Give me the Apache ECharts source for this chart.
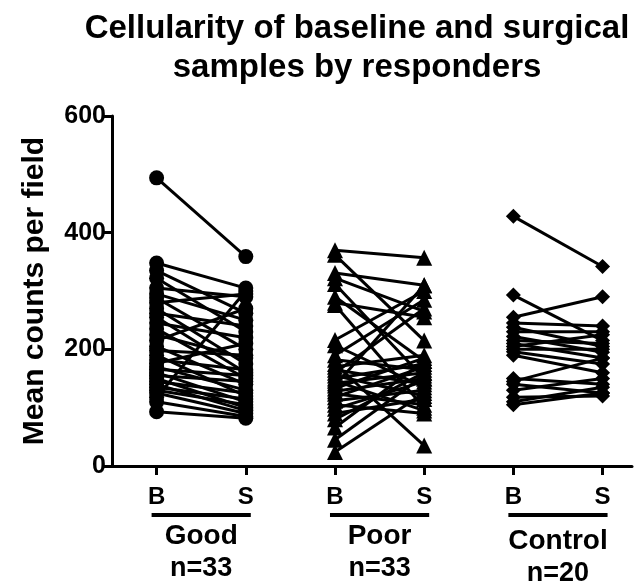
<!DOCTYPE html>
<html>
<head>
<meta charset="utf-8">
<script src="https://cdn.jsdelivr.net/npm/echarts@6/dist/echarts.min.js"></script>
<style>
  html, body { margin: 0; padding: 0; background: #fff; }
  #chart { width: 644px; height: 588px; }
</style>
</head>
<body>
<div id="chart"></div>
<script>
// Paired baseline (B) and surgical (S) cellularity per subject
const groups = ['Good', 'Poor', 'Control'];
const groupCounts = ['n=33', 'n=33', 'n=20'];
const tickLabels = ['B', 'S', 'B', 'S', 'B', 'S'];
const tickPositions = [1, 2, 3, 4, 5, 6];

const goodBaseline = [494, 348, 335, 322, 305, 295, 288, 280, 270, 262, 255, 245, 235, 225, 215, 205, 198, 190, 182, 176, 170, 166, 160, 155, 150, 145, 140, 135, 130, 125, 118, 110, 93];
const goodSurgical = [359, 305, 262, 230, 290, 250, 200, 295, 175, 240, 160, 220, 150, 185, 270, 140, 190, 120, 165, 210, 130, 155, 110, 145, 100, 125, 95, 115, 105, 90, 300, 85, 82];

const poorBaseline = [370, 362, 331, 322, 312, 290, 280, 276, 216, 207, 190, 182, 175, 170, 165, 160, 155, 150, 146, 142, 138, 133, 128, 124, 118, 112, 105, 98, 90, 80, 66, 45, 24];
const poorSurgical = [357, 215, 310, 265, 150, 180, 255, 100, 300, 135, 285, 165, 35, 190, 140, 270, 120, 175, 95, 160, 310, 185, 150, 105, 170, 130, 90, 145, 115, 160, 180, 155, 125];

const controlBaseline = [428, 293, 255, 245, 238, 230, 222, 215, 210, 205, 200, 196, 190, 150, 145, 140, 130, 118, 110, 105];
const controlSurgical = [342, 215, 290, 240, 205, 230, 195, 210, 185, 225, 200, 175, 160, 140, 185, 125, 150, 120, 135, 125];

const FONT = 'Liberation Sans, Arial, Helvetica, sans-serif';
const INK = '#000';

function pairSeries(baseline, surgical, xB, xS, symbol, size) {
  return baseline.map((b, i) => ({
    type: 'line',
    data: [[xB, b], [xS, surgical[i]]],
    symbol: symbol,
    symbolSize: size,
    showSymbol: true,
    lineStyle: { color: INK, width: 3 },
    itemStyle: { color: INK },
    silent: true,
    z: 3
  }));
}

const series = [].concat(
  pairSeries(goodBaseline, goodSurgical, 1, 2, 'circle', 15),
  pairSeries(poorBaseline, poorSurgical, 3, 4, 'triangle', 16),
  pairSeries(controlBaseline, controlSurgical, 5, 6, 'diamond', 15)
);

const chart = echarts.init(document.getElementById('chart'), null, { renderer: 'canvas' });

chart.setOption({
  animation: false,
  backgroundColor: '#fff',
  title: {
    text: 'Cellularity of baseline and surgical\nsamples by responders',
    left: 352,
    top: 4,
    textAlign: 'center',
    textStyle: {
      fontFamily: FONT,
      fontWeight: 'bold',
      fontSize: 33,
      lineHeight: 39,
      color: INK
    }
  },
  grid: { left: 112, right: 12, top: 116, bottom: 122, containLabel: false },
  xAxis: {
    type: 'value',
    min: 0.5,
    max: 6.33,
    axisLine: { show: true, lineStyle: { color: INK, width: 3 } },
    axisTick: { show: true, customValues: tickPositions, length: 9, lineStyle: { color: INK, width: 3 } },
    axisLabel: {
      customValues: tickPositions,
      formatter: v => tickLabels[Math.round(v) - 1] || '',
      margin: 19,
      fontFamily: FONT,
      fontWeight: 'bold',
      fontSize: 24,
      color: INK
    },
    splitLine: { show: false }
  },
  yAxis: {
    type: 'value',
    min: 0,
    max: 600,
    interval: 200,
    name: 'Mean counts per field',
    nameLocation: 'middle',
    nameGap: 62,
    nameTextStyle: { fontFamily: FONT, fontWeight: 'bold', fontSize: 30, color: INK },
    axisLine: { show: true, lineStyle: { color: INK, width: 3 } },
    axisTick: { show: true, length: 10, lineStyle: { color: INK, width: 3 } },
    axisLabel: { margin: 6, fontFamily: FONT, fontWeight: 'bold', fontSize: 25, color: INK },
    splitLine: { show: false }
  },
  series: series
});

// Group brackets and captions below the B/S pairs
const graphics = [];
groups.forEach((g, gi) => {
  const pB = chart.convertToPixel({ gridIndex: 0 }, [tickPositions[gi * 2], 0]);
  const pS = chart.convertToPixel({ gridIndex: 0 }, [tickPositions[gi * 2 + 1], 0]);
  const cx = (pB[0] + pS[0]) / 2;
  const base = pB[1];
  const extra = g === 'Control' ? 5 : 0;
  graphics.push({
    type: 'rect',
    shape: { x: pB[0] - 5, y: base + 47, width: pS[0] - pB[0] + 10, height: 4 },
    style: { fill: INK },
    silent: true
  });
  graphics.push({
    type: 'text',
    x: cx, y: base + 70 + extra,
    style: { text: g, fill: INK, font: 'bold 28px ' + FONT, textAlign: 'center', textVerticalAlign: 'middle' },
    silent: true
  });
  graphics.push({
    type: 'text',
    x: cx, y: base + 103 + extra,
    style: { text: groupCounts[gi], fill: INK, font: 'bold 27px ' + FONT, textAlign: 'center', textVerticalAlign: 'middle' },
    silent: true
  });
});
chart.setOption({ graphic: graphics });
</script>
</body>
</html>
